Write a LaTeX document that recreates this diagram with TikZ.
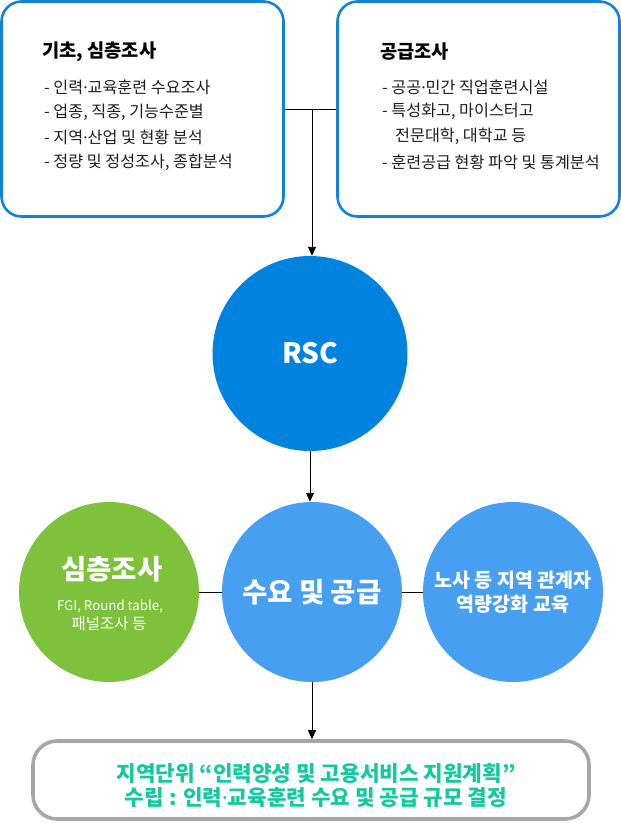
\documentclass[tikz,border=0pt]{standalone}
\usepackage{fontspec}
\setmainfont{Noto Sans CJK KR}
\newfontfamily\latinfont{Noto Sans}
\newcommand{\mdot}{{\latinfont ·}}
\usetikzlibrary{arrows.meta}
\definecolor{boxblue}{RGB}{16,130,220}
\definecolor{rscblue}{RGB}{0,131,222}
\definecolor{lightblue}{RGB}{70,159,240}
\definecolor{leafgreen}{RGB}{125,194,58}
\definecolor{teal}{RGB}{20,200,160}
\definecolor{framegray}{RGB}{166,166,166}
\definecolor{bodytext}{RGB}{30,30,30}
\tikzset{
  infobox/.style={draw=boxblue, line width=2.6pt, rounded corners=20pt, minimum width=282pt, minimum height=215pt, inner sep=0pt},
  finalbox/.style={draw=framegray, line width=3.6pt, rounded corners=24pt, minimum width=556pt, minimum height=78pt, inner sep=0pt},
  disc/.style={circle, minimum size=180pt, inner sep=0pt, text=white, font=\bfseries, align=center},
  boxtitle/.style={anchor=west, inner sep=0pt, font=\fontsize{18.7}{22}\selectfont\bfseries, text=black},
  bullet/.style={anchor=west, inner sep=0pt, font=\fontsize{16.2}{18}\selectfont, text=bodytext},
  link/.style={line width=0.9pt, draw=black},
  arrowlink/.style={link, -{Triangle[length=9pt,width=8pt]}},
}
\begin{document}
\begin{tikzpicture}[x=1pt,y=-1pt]
\useasboundingbox (0,0) rectangle (621,823);
% boxes
\node[infobox] (basic) at (142.5,109) {};
\node[infobox] (supply) at (478.5,109) {};
\node[boxtitle] (basicT) at (42,52) {기초, 심층조사};
\node[bullet] (b1) at (44,87) {- 인력\mdot 교육훈련 수요조사};
\node[bullet] (b2) at (44,112) {- 업종, 직종, 기능수준별};
\node[bullet] (b3) at (44,137) {- 지역\mdot 산업 및 현황 분석};
\node[bullet] (b4) at (44,162) {- 정량 및 정성조사, 종합분석};
\node[boxtitle] (supplyT) at (380,52) {공급조사};
\node[bullet] (s1) at (382,87) {- 공공\mdot 민간 직업훈련시설};
\node[bullet] (s2) at (382,111) {- 특성화고, 마이스터고};
\node[bullet] (s3) at (395,136) {전문대학, 대학교 등};
\node[bullet] (s4) at (382,162) {- 훈련공급 현황 파악 및 통계분석};
% circles
\node[disc, minimum size=195pt, fill=rscblue, font=\fontsize{28}{30}\selectfont\bfseries] (rsc) at (310,353.5) {RSC};
\node[disc, fill=lightblue, font=\fontsize{27.5}{30}\selectfont\bfseries] (mid) at (312,592) {수요 및 공급};
\node[disc, fill=leafgreen] (deep) at (109,592) {};
\node[disc, fill=lightblue, font=\fontsize{19.5}{24}\selectfont\bfseries] (edu) at (513,592) {노사 등 지역 관계자\\역량강화 교육};
\node[inner sep=0pt, text=white, font=\fontsize{27.5}{30}\selectfont\bfseries] (deepT) at (112,569) {심층조사};
\node[inner sep=0pt, text=white, font=\fontsize{13.3}{16}\selectfont] (deepS) at (110,606) {FGI, Round table,};
\node[inner sep=0pt, text=white, font=\fontsize{15.5}{18}\selectfont] (deepS2) at (109,624) {패널조사 등};
% final box
\node[finalbox] (plan) at (311,780) {};
\node[inner sep=0pt, text=teal, font=\fontsize{21.3}{24}\selectfont\bfseries, align=center] (planT) at (316,785) {지역단위 “인력양성 및 고용서비스 지원계획”\\수립 : 인력\mdot 교육훈련 수요 및 공급 규모 결정};
% connectors
\coordinate (join) at (312,109);
\draw[link] (basic.east) -- (supply.west);
\draw[arrowlink] (join) -- (join |- rsc.north);
\draw[arrowlink] (rsc.south) -- (rsc.south |- mid.north);
\draw[link] (deep.east) -- (mid.west);
\draw[link] (mid.east) -- (edu.west);
\draw[arrowlink] (mid.south) -- (mid.south |- plan.north);
\end{tikzpicture}
\end{document}
